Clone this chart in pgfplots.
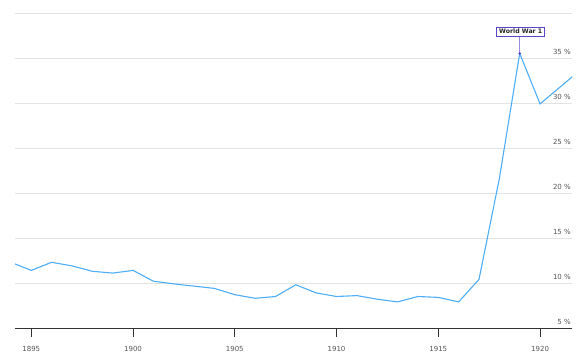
\documentclass[border=0pt]{standalone}
\usepackage{pgfplots}
\pgfplotsset{compat=1.18}
\usepackage{fontspec}
\setmainfont{DejaVu Sans}
\definecolor{linec}{HTML}{4DAEF7}
\definecolor{gridc}{HTML}{E3E3E3}
\definecolor{annc}{HTML}{5B45C6}
\definecolor{annl}{HTML}{9A8BE0}
\definecolor{labc}{HTML}{555555}
\definecolor{axc}{HTML}{333333}
\pgfplotstableread{
year val
1894 12.3
1895 11.4
1896 12.3
1897 11.9
1898 11.3
1899 11.1
1900 11.4
1901 10.2
1902 9.9
1903 9.65
1904 9.4
1905 8.7
1906 8.3
1907 8.5
1908 9.8
1909 8.9
1910 8.5
1911 8.6
1912 8.2
1913 7.9
1914 8.5
1915 8.4
1916 7.9
1917 10.4
1918 21.6
1919 35.5
1920 29.9
1921 31.8
1922 33.7
}\datatable
\begin{document}
\begin{tikzpicture}[x=1pt,y=1pt]
\path[use as bounding box] (0,0) rectangle (579,360);
\begin{axis}[
  at={(15pt,32pt)}, anchor=south west,
  scale only axis, width=557pt, height=328pt,
  xmin=1894.2, xmax=1921.57, ymin=5, ymax=41.44,
  separate axis lines,
  axis x line*=bottom,
  y axis line style={draw=none},
  x axis line style={draw=axc, line width=0.8pt, -},
  xtick={1895,1900,1905,1910,1915,1920},
  xticklabels={1895,1900,1905,1910,1915,1920},
  tick align=outside,
  major tick length=9pt,
  x tick style={draw=axc, line width=0.8pt},
  xticklabel style={font=\fontsize{7}{8}\selectfont, text=labc, anchor=base, yshift=-14.5pt},
  ytick={5,10,15,20,25,30,35,40},
  yticklabels={5 \%,10 \%,15 \%,20 \%,25 \%,30 \%,35 \%,{}},
  ytick pos=right, yticklabel pos=right,
  y tick style={draw=none, draw opacity=0, line width=0pt},
  yticklabel style={font=\fontsize{7}{8}\selectfont, text=labc, anchor=south east, inner sep=0pt, xshift=-10pt, yshift=3pt},
  ymajorgrids,
  grid style={draw=gridc, line width=0.8pt},
  /pgf/number format/assume math mode=true,
  clip mode=individual,
]
\addplot[draw=linec, line width=1.1pt, mark=none] table[x=year, y=val] {\datatable};
\draw[draw=annl, line width=1.3pt] (axis cs:1919,35.5) -- ++(0pt,17pt);
\addplot[only marks, mark=*, mark size=1.1pt, color=annc] coordinates {(1919,35.5)};
\node[draw=annc, fill=white, line width=0.8pt, anchor=south, inner xsep=2.5pt, inner ysep=2pt,
      font=\fontsize{6.2}{7}\selectfont\bfseries, text=black!85, yshift=17pt]
  at (axis cs:1919.05,35.5) {World War 1};
\end{axis}
\end{tikzpicture}
\end{document}
